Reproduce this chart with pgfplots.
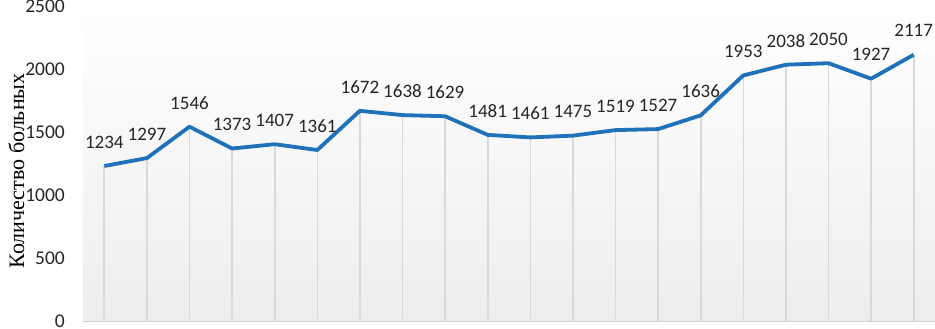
\documentclass[border=0pt]{standalone}
\usepackage{fontspec}
\setmainfont{Carlito}
\newfontfamily\serifru{Liberation Serif}
\usepackage{pgfplots}
\pgfplotsset{compat=1.18}
\definecolor{lineblue}{RGB}{31,113,186}
\begin{document}
\begin{tikzpicture}
\path[use as bounding box] (-83bp,-7.5bp) rectangle (852bp,321.5bp);
\begin{axis}[
  at={(0,0)}, anchor=south west,
  scale only axis, width=852bp, height=315bp,
  xmin=-0.5, xmax=19.5, ymin=0, ymax=2500,
  xtick=\empty, ytick={0,500,1000,1500,2000,2500},
  major tick length=0pt,
  axis line style={draw=none},
  clip=false,
  /pgf/number format/assume math mode=true,
  /pgf/number format/1000 sep={},
  yticklabel style={font=\fontsize{19.5bp}{22bp}\selectfont, anchor=east, inner sep=0pt, xshift=-18bp, text=black!85},
  ylabel={\serifru Количество больных},
  every axis y label/.style={font=\fontsize{22bp}{24bp}\selectfont, at={(axis description cs:-0.0692,0.478)}, anchor=base, rotate=90, inner sep=0pt},
]
\fill[top color=white, bottom color=black!7] (axis cs:-0.5,0) rectangle (axis cs:19.5,2500);
\addplot[ycomb, draw=black!15, line width=1.6bp] table {
x y
0 1234
1 1297
2 1546
3 1373
4 1407
5 1361
6 1672
7 1638
8 1629
9 1481
10 1461
11 1475
12 1519
13 1527
14 1636
15 1953
16 2038
17 2050
18 1927
19 2117
};
\draw[black!18, line width=1.3bp] (axis cs:-0.5,0) -- (axis cs:19.5,0);
\addplot[lineblue, line width=3.8bp, line join=round, mark=none,
  nodes near coords,
  every node near coord/.append style={font=\fontsize{19bp}{22bp}\selectfont, text=black!85, anchor=center, yshift=24bp},
  nodes near coords style={/pgf/number format/1000 sep={}}
] table {
x y
0 1234
1 1297
2 1546
3 1373
4 1407
5 1361
6 1672
7 1638
8 1629
9 1481
10 1461
11 1475
12 1519
13 1527
14 1636
15 1953
16 2038
17 2050
18 1927
19 2117
};
\end{axis}
\end{tikzpicture}
\end{document}
